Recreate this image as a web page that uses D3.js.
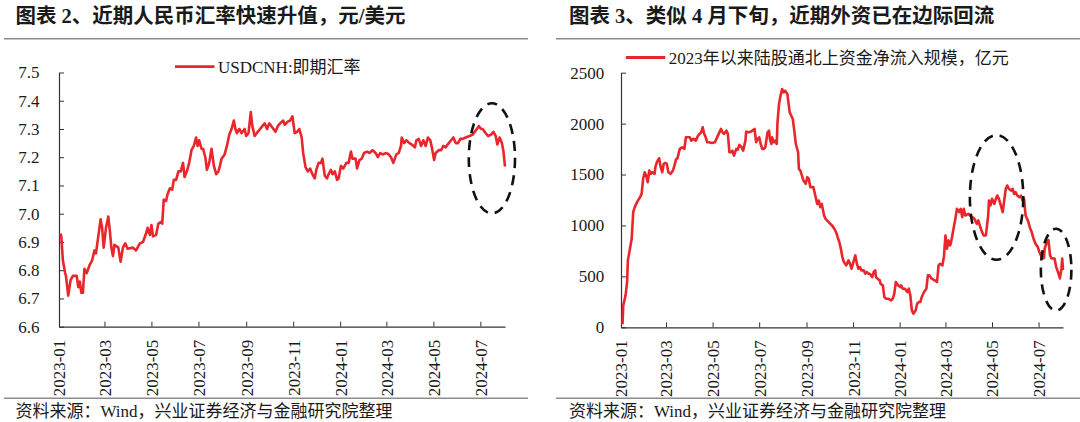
<!DOCTYPE html>
<html><head><meta charset="utf-8">
<script src="https://cdn.jsdelivr.net/npm/d3@7"></script>
<style>
html,body{margin:0;padding:0;background:#fff;}
svg{display:block;}
text{font-family:"Liberation Serif","Noto Sans CJK SC",serif;}
</style></head>
<body>
<svg id="c" width="1080" height="422"></svg>
<script>
// ---------- DATA ----------
const xTickLabels = ["2023-01","2023-03","2023-05","2023-07","2023-09","2023-11","2024-01","2024-03","2024-05","2024-07"];
const xDomain = ["2023-01-01","2024-08-02"];

const cnhTicks = [6.6,6.7,6.8,6.9,7.0,7.1,7.2,7.3,7.4,7.5];
const cnhDates = ["2023-01-03","2023-01-04","2023-01-06","2023-01-09","2023-01-10","2023-01-13","2023-01-16","2023-01-19","2023-01-24","2023-01-26","2023-01-28","2023-01-30","2023-02-01","2023-02-03","2023-02-06","2023-02-10","2023-02-13","2023-02-16","2023-02-18","2023-02-21","2023-02-24","2023-02-26","2023-02-28","2023-03-03","2023-03-06","2023-03-08","2023-03-10","2023-03-12","2023-03-14","2023-03-19","2023-03-22","2023-03-25","2023-03-28","2023-03-31","2023-04-07","2023-04-11","2023-04-16","2023-04-20","2023-04-24","2023-04-26","2023-04-29","2023-05-01","2023-05-03","2023-05-07","2023-05-10","2023-05-13","2023-05-15","2023-05-17","2023-05-20","2023-05-22","2023-05-25","2023-05-28","2023-05-30","2023-06-02","2023-06-05","2023-06-08","2023-06-11","2023-06-13","2023-06-16","2023-06-19","2023-06-22","2023-06-25","2023-06-28","2023-06-30","2023-07-02","2023-07-05","2023-07-07","2023-07-10","2023-07-12","2023-07-15","2023-07-18","2023-07-21","2023-07-24","2023-07-27","2023-07-29","2023-07-31","2023-08-04","2023-08-07","2023-08-10","2023-08-13","2023-08-16","2023-08-18","2023-08-20","2023-08-23","2023-08-26","2023-08-30","2023-09-01","2023-09-04","2023-09-07","2023-09-09","2023-09-12","2023-09-16","2023-09-19","2023-09-22","2023-09-25","2023-09-28","2023-10-01","2023-10-05","2023-10-09","2023-10-12","2023-10-15","2023-10-19","2023-10-21","2023-10-25","2023-10-28","2023-10-31","2023-11-03","2023-11-06","2023-11-09","2023-11-12","2023-11-14","2023-11-17","2023-11-20","2023-11-23","2023-11-26","2023-11-29","2023-12-01","2023-12-04","2023-12-07","2023-12-09","2023-12-12","2023-12-15","2023-12-17","2023-12-20","2023-12-22","2023-12-25","2023-12-28","2023-12-30","2024-01-02","2024-01-05","2024-01-09","2024-01-12","2024-01-15","2024-01-17","2024-01-21","2024-01-23","2024-01-26","2024-01-29","2024-02-01","2024-02-05","2024-02-08","2024-02-12","2024-02-16","2024-02-19","2024-02-22","2024-02-25","2024-03-01","2024-03-04","2024-03-07","2024-03-10","2024-03-14","2024-03-17","2024-03-20","2024-03-21","2024-03-24","2024-03-27","2024-03-31","2024-04-03","2024-04-07","2024-04-09","2024-04-12","2024-04-15","2024-04-18","2024-04-21","2024-04-24","2024-04-27","2024-04-29","2024-05-02","2024-05-04","2024-05-08","2024-05-11","2024-05-14","2024-05-17","2024-05-21","2024-05-24","2024-05-27","2024-05-30","2024-06-02","2024-06-05","2024-06-08","2024-06-12","2024-06-17","2024-06-21","2024-06-25","2024-06-29","2024-07-02","2024-07-04","2024-07-08","2024-07-11","2024-07-15","2024-07-18","2024-07-21","2024-07-23","2024-07-26","2024-07-29","2024-07-31","2024-08-02"];
const cnhValues = [6.93,6.92,6.835,6.79,6.78,6.71,6.765,6.78,6.78,6.74,6.76,6.72,6.72,6.805,6.79,6.82,6.835,6.87,6.86,6.92,6.98,6.95,6.88,6.95,6.99,6.94,6.88,6.85,6.89,6.88,6.83,6.88,6.895,6.876,6.88,6.87,6.895,6.90,6.93,6.95,6.925,6.96,6.92,6.925,6.965,6.97,6.965,7.05,7.045,7.07,7.09,7.085,7.12,7.12,7.15,7.15,7.18,7.13,7.15,7.18,7.225,7.24,7.27,7.24,7.26,7.23,7.23,7.20,7.155,7.18,7.23,7.17,7.14,7.15,7.17,7.195,7.21,7.24,7.28,7.30,7.33,7.30,7.285,7.30,7.285,7.30,7.275,7.285,7.36,7.31,7.275,7.29,7.30,7.31,7.32,7.30,7.32,7.305,7.29,7.31,7.32,7.33,7.315,7.326,7.33,7.345,7.285,7.29,7.30,7.27,7.215,7.165,7.15,7.16,7.14,7.125,7.155,7.18,7.18,7.195,7.135,7.125,7.14,7.155,7.14,7.15,7.12,7.125,7.17,7.16,7.18,7.18,7.22,7.195,7.195,7.16,7.19,7.195,7.215,7.22,7.215,7.225,7.215,7.20,7.215,7.21,7.215,7.21,7.20,7.18,7.21,7.215,7.24,7.27,7.25,7.26,7.25,7.245,7.235,7.26,7.265,7.24,7.26,7.24,7.27,7.26,7.235,7.19,7.215,7.225,7.225,7.24,7.235,7.25,7.26,7.27,7.25,7.25,7.265,7.265,7.27,7.275,7.28,7.295,7.31,7.30,7.30,7.285,7.275,7.28,7.29,7.275,7.245,7.27,7.25,7.22,7.167];

const nbTicks = [0,500,1000,1500,2000,2500];
const nbDates = ["2023-01-03","2023-01-04","2023-01-05","2023-01-07","2023-01-09","2023-01-10","2023-01-12","2023-01-15","2023-01-17","2023-01-19","2023-01-22","2023-01-26","2023-01-28","2023-01-30","2023-02-01","2023-02-03","2023-02-05","2023-02-07","2023-02-09","2023-02-11","2023-02-14","2023-02-15","2023-02-17","2023-02-20","2023-02-22","2023-02-24","2023-02-26","2023-02-28","2023-03-02","2023-03-04","2023-03-07","2023-03-10","2023-03-12","2023-03-14","2023-03-16","2023-03-19","2023-03-22","2023-03-25","2023-03-27","2023-03-29","2023-04-01","2023-04-03","2023-04-06","2023-04-09","2023-04-12","2023-04-14","2023-04-16","2023-04-18","2023-04-20","2023-04-22","2023-04-24","2023-04-26","2023-04-30","2023-05-04","2023-05-06","2023-05-09","2023-05-12","2023-05-14","2023-05-16","2023-05-19","2023-05-21","2023-05-23","2023-05-25","2023-05-27","2023-05-29","2023-06-01","2023-06-03","2023-06-05","2023-06-08","2023-06-10","2023-06-13","2023-06-14","2023-06-17","2023-06-20","2023-06-22","2023-06-25","2023-06-27","2023-06-29","2023-07-01","2023-07-03","2023-07-05","2023-07-07","2023-07-09","2023-07-12","2023-07-14","2023-07-15","2023-07-17","2023-07-18","2023-07-20","2023-07-22","2023-07-24","2023-07-25","2023-07-27","2023-07-29","2023-07-31","2023-08-02","2023-08-04","2023-08-07","2023-08-08","2023-08-10","2023-08-12","2023-08-14","2023-08-16","2023-08-18","2023-08-21","2023-08-22","2023-08-24","2023-08-26","2023-08-28","2023-08-31","2023-09-02","2023-09-04","2023-09-06","2023-09-08","2023-09-10","2023-09-13","2023-09-15","2023-09-17","2023-09-19","2023-09-21","2023-09-24","2023-09-26","2023-09-30","2023-10-05","2023-10-08","2023-10-10","2023-10-12","2023-10-14","2023-10-16","2023-10-18","2023-10-20","2023-10-23","2023-10-26","2023-10-28","2023-10-30","2023-11-02","2023-11-04","2023-11-06","2023-11-08","2023-11-10","2023-11-12","2023-11-15","2023-11-17","2023-11-19","2023-11-21","2023-11-23","2023-11-26","2023-11-28","2023-11-30","2023-12-01","2023-12-03","2023-12-06","2023-12-07","2023-12-10","2023-12-12","2023-12-14","2023-12-17","2023-12-21","2023-12-23","2023-12-25","2023-12-27","2023-12-30","2024-01-02","2024-01-03","2024-01-05","2024-01-08","2024-01-11","2024-01-13","2024-01-15","2024-01-17","2024-01-19","2024-01-22","2024-01-24","2024-01-26","2024-01-28","2024-01-30","2024-02-02","2024-02-05","2024-02-07","2024-02-09","2024-02-12","2024-02-16","2024-02-19","2024-02-21","2024-02-23","2024-02-26","2024-02-28","2024-03-01","2024-03-03","2024-03-05","2024-03-07","2024-03-08","2024-03-10","2024-03-12","2024-03-14","2024-03-16","2024-03-19","2024-03-21","2024-03-23","2024-03-25","2024-03-27","2024-03-31","2024-04-02","2024-04-05","2024-04-08","2024-04-11","2024-04-13","2024-04-15","2024-04-18","2024-04-20","2024-04-23","2024-04-24","2024-04-26","2024-04-27","2024-04-29","2024-05-01","2024-05-04","2024-05-06","2024-05-08","2024-05-10","2024-05-12","2024-05-15","2024-05-17","2024-05-19","2024-05-21","2024-05-23","2024-05-26","2024-05-28","2024-05-30","2024-06-01","2024-06-03","2024-06-06","2024-06-08","2024-06-10","2024-06-12","2024-06-14","2024-06-17","2024-06-20","2024-06-22","2024-06-24","2024-06-27","2024-06-30","2024-07-02","2024-07-04","2024-07-06","2024-07-08","2024-07-09","2024-07-12","2024-07-14","2024-07-16","2024-07-18","2024-07-22","2024-07-24","2024-07-27","2024-07-29","2024-07-31","2024-08-01","2024-08-02"];
const nbValues = [30,216,248,314,444,657,739,869,1131,1180,1229,1278,1310,1458,1523,1490,1425,1539,1507,1523,1507,1572,1621,1660,1572,1523,1605,1614,1605,1523,1507,1539,1588,1647,1660,1752,1768,1752,1866,1866,1866,1833,1850,1833,1882,1899,1915,1964,1899,1866,1817,1817,1810,1817,1850,1899,1948,1915,1899,1931,1899,1719,1719,1735,1686,1752,1745,1791,1768,1735,1833,1921,1915,1921,1931,1948,1817,1850,1866,1801,1752,1752,1768,1915,1931,1850,1801,1866,1817,1833,1801,2013,2193,2274,2340,2307,2323,2291,2225,2111,2078,2046,1931,1801,1719,1556,1539,1490,1441,1409,1474,1458,1376,1376,1376,1278,1212,1245,1180,1212,1098,1065,1033,995,960,930,880,837,771,690,641,608,657,624,575,657,706,624,575,592,559,559,526,543,526,526,493,543,560,493,477,461,428,412,297,281,281,265,281,330,444,412,395,412,379,379,346,379,314,167,134,167,232,248,248,297,346,379,510,510,477,461,444,608,624,608,690,902,771,853,804,820,902,984,1065,1163,1131,1163,1082,1163,1098,1114,1098,1082,1065,1016,1049,1000,935,902,902,967,1098,1245,1196,1261,1212,1261,1294,1261,1212,1131,1245,1360,1392,1360,1343,1360,1310,1327,1294,1278,1294,1245,1261,1098,1049,970,935,880,820,788,740,708,676,680,774,839,855,708,676,676,594,529,480,578,676,561];

// annotation ellipses (center date/value, half-extent in days / value units)
const cnhMarks = [{date:"2024-07-16", value:7.196, halfDays:30, halfValue:0.195}];
const nbMarks = [{date:"2024-05-07", value:1275, halfDays:34.5, halfValue:612},
                 {date:"2024-07-24", value:566, halfDays:20, halfValue:402}];

const titles = ["图表 2、近期人民币汇率快速升值，元/美元","图表 3、类似 4 月下旬，近期外资已在边际回流"];
const legends = ["USDCNH:即期汇率","2023年以来陆股通北上资金净流入规模，亿元"];
const sourceText = "资料来源：Wind，兴业证券经济与金融研究院整理";

// ---------- DRAW ----------
const parse = d3.timeParse("%Y-%m-%d");
const svg = d3.select("#c");
svg.append("rect").attr("width",1080).attr("height",422).attr("fill","#fff");
const RED = "#e8262b";

function panel(o){
  const g = svg.append("g");
  // title
  g.append("text").attr("x",o.titleX).attr("y",23).text(o.title)
    .attr("font-size","20.5px").attr("font-weight","bold").attr("fill","#1a1a1a");
  // rules
  g.append("line").attr("x1",o.ruleX1).attr("x2",o.ruleX2).attr("y1",38.7).attr("y2",38.7)
    .attr("stroke","#8c8c8c").attr("stroke-width",1.6);
  g.append("line").attr("x1",o.ruleX1).attr("x2",o.ruleX2).attr("y1",398.3).attr("y2",398.3)
    .attr("stroke","#8c8c8c").attr("stroke-width",1.6);
  g.append("text").attr("x",o.titleX).attr("y",417).text(sourceText)
    .attr("font-size","17px").attr("fill","#1a1a1a");

  const x = d3.scaleTime().domain(xDomain.map(parse)).range([o.x0,o.x1]);
  const y = d3.scaleLinear().domain(o.yDomain).range([o.yBottom,o.yTop]);

  const xa = g.append("g").attr("transform",`translate(0,${o.yBottom})`)
    .call(d3.axisBottom(x).tickValues(xTickLabels.map(s=>parse(s+"-01")))
      .tickSizeInner(-5).tickSizeOuter(0).tickFormat(d3.timeFormat("%Y-%m")));
  xa.select(".domain").attr("stroke","#333").attr("stroke-width",1.2);
  xa.selectAll(".tick line").attr("stroke","#333");
  xa.selectAll(".tick text").attr("transform","rotate(-90)").attr("x",-13).attr("y",0)
    .attr("dy","0.35em").style("text-anchor","end")
    .attr("font-size","17px").attr("fill","#1a1a1a").attr("font-family",null);

  const ya = g.append("g").attr("transform",`translate(${o.x0},0)`)
    .call(d3.axisLeft(y).tickValues(o.yTicks).tickSizeInner(-5).tickSizeOuter(0)
      .tickPadding(o.yPad).tickFormat(o.fmt));
  ya.select(".domain").attr("stroke","#333").attr("stroke-width",1.2);
  ya.selectAll(".tick line").attr("stroke","#333");
  ya.selectAll(".tick text").attr("font-size","17px").attr("fill","#1a1a1a").attr("font-family",null);

  const data = o.dates.map((d,i)=>({d:parse(d),v:o.values[i]}));
  g.append("path").datum(data).attr("fill","none").attr("stroke",RED)
    .attr("stroke-width",2.6).attr("stroke-linejoin","round")
    .attr("d",d3.line().x(p=>x(p.d)).y(p=>y(p.v)));

  o.marks.forEach(m=>{
    const c = parse(m.date);
    const cx = x(c), cy = y(m.value);
    const rx = x(d3.timeDay.offset(c, Math.round(m.halfDays))) - cx;
    const ry = y(m.value - m.halfValue) - cy;
    g.append("ellipse").attr("cx",cx).attr("cy",cy).attr("rx",rx).attr("ry",ry)
      .attr("fill","none").attr("stroke","#111").attr("stroke-width",2.6)
      .attr("stroke-dasharray","10,7");
  });

  // legend
  g.append("line").attr("x1",o.legX).attr("x2",o.legX+39.5).attr("y1",o.legY).attr("y2",o.legY)
    .attr("stroke",RED).attr("stroke-width",2.8);
  g.append("text").attr("x",o.legX+43).attr("y",o.legY).attr("dy","0.36em").text(o.legend)
    .attr("font-size","17px").attr("fill","#1a1a1a");
}

panel({title:titles[0], titleX:15.5, ruleX1:4, ruleX2:528,
  x0:59, x1:505, yTop:72.5, yBottom:326.7, yDomain:[6.6,7.5], yTicks:cnhTicks, yPad:19.5,
  fmt:d3.format(".1f"), dates:cnhDates, values:cnhValues, marks:cnhMarks,
  legend:legends[0], legX:175, legY:66.7});

panel({title:titles[1], titleX:569, ruleX1:556, ruleX2:1080,
  x0:621, x1:1063, yTop:72.7, yBottom:327.3, yDomain:[0,2500], yTicks:nbTicks, yPad:16.7,
  fmt:d3.format("d"), dates:nbDates, values:nbValues, marks:nbMarks,
  legend:legends[1], legX:625.8, legY:57.5});
</script>
</body></html>
